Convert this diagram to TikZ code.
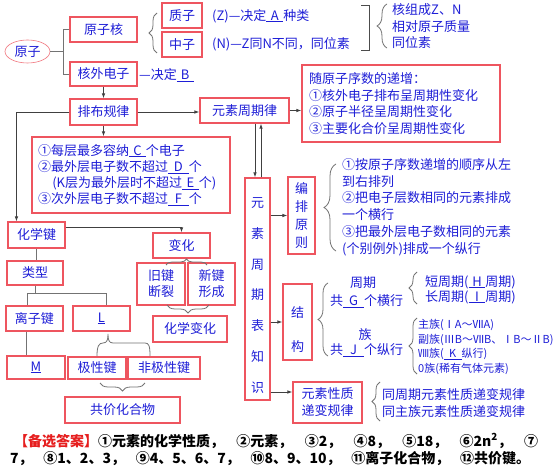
\documentclass[tikz,border=0pt]{standalone}
\usepackage{fontspec}
\setmainfont{Noto Sans CJK SC}
\usetikzlibrary{arrows.meta,shapes.geometric,decorations.pathreplacing,calc}
\definecolor{tblue}{RGB}{30,30,215}
\definecolor{bred}{RGB}{238,85,95}
\definecolor{lgray}{RGB}{115,115,115}
\definecolor{ared}{RGB}{230,30,30}
\newcommand\blank[2][1.3em]{\underline{\hbox to #1{\hss#2\hss}}}
\tikzset{
 box/.style={draw=bred, line width=1.1pt, text=tblue, inner sep=0pt, align=center, font=\fontsize{13}{16}\selectfont},
 conn/.style={draw=lgray, line width=0.8pt},
 arr/.style={draw=black!75, line width=0.8pt, -{Latex[length=5pt,width=3.5pt]}},
 brc/.style={draw=lgray, line width=0.8pt, decorate, decoration={brace, amplitude=#1}},
 brc/.default=6pt,
 txt/.style={text=tblue, inner sep=0pt, font=\fontsize{13}{16}\selectfont, anchor=west},
 vtxt/.style={text=tblue, inner sep=0pt, align=center},
 anstxt/.style={anchor=west, inner sep=0pt, font=\bfseries\fontsize{14}{16}\selectfont},
}
\begin{document}
\begin{tikzpicture}[x=1pt,y=-1pt]
\path[use as bounding box, fill=white] (0,0) rectangle (560,468);

% nodes
\node[ellipse, draw=bred!80, line width=0.6pt, text=tblue, minimum width=45pt, minimum height=23pt, inner sep=0pt, font=\fontsize{13}{16}\selectfont] (yz) at (27.5,51.5) {原子};
\node[box, minimum width=67pt, minimum height=25pt] (yzh) at (103.5,29.5) {原子核};
\node[box, minimum width=67pt, minimum height=24pt] (hwdz) at (103.5,74) {核外电子};
\node[box, minimum width=40pt, minimum height=25pt] (zhz) at (182,15.5) {质子};
\node[box, minimum width=40pt, minimum height=25pt] (zgz) at (182,44.5) {中子};
\node[box, minimum width=67pt, minimum height=26pt] (pbgl) at (103.5,112) {排布规律};
\node[box, minimum width=89pt, minimum height=25pt] (yszql) at (244.5,110.5) {元素周期律};
\node[box, minimum width=198pt, minimum height=77pt, text width=184pt, align=left, font=\fontsize{13}{16.7}\selectfont] (sy) at (401,103.5) {随原子序数的递增：\\①核外电子排布呈周期性变化\\②原子半径呈周期性变化\\③主要化合价呈周期性变化};
\node[box, minimum width=198pt, minimum height=76pt, text width=186pt, align=left, font=\fontsize{13}{16.3}\selectfont] (rule) at (131,175) {①每层最多容纳\blank{C}个电子\\②最外层电子数不超过\blank[1.6em]{D}个\\\hspace*{1.1em}(K层为最外层时不超过\blank{E}个)\\③次外层电子数不超过\blank[1.6em]{F}个};
\node[box, minimum width=57pt, minimum height=26pt] (hxj) at (36.5,235) {化学键};
\node[box, minimum width=57pt, minimum height=25pt] (bh) at (181.5,245.5) {变化};
\node[box, minimum width=48pt, minimum height=42pt] (jj) at (161,284) {旧键\\断裂};
\node[box, minimum width=47pt, minimum height=42pt] (xj) at (211.5,284) {新键\\形成};
\node[box, minimum width=74pt, minimum height=26pt] (hxbh) at (190,329) {化学变化};
\node[box, minimum width=56pt, minimum height=24pt] (lx) at (35,273) {类型};
\node[box, minimum width=57pt, minimum height=25pt] (lzj) at (34.5,318.5) {离子键};
\node[box, minimum width=57pt, minimum height=25pt] (L) at (101.5,318.5) {\underline{L}};
\node[box, minimum width=58pt, minimum height=23pt] (M) at (36,367.5) {\underline{M}};
\node[box, minimum width=58pt, minimum height=22pt] (jx) at (97,368) {极性键};
\node[box, minimum width=72pt, minimum height=22pt] (fjx) at (164,368) {非极性键};
\node[box, minimum width=115pt, minimum height=26pt] (gj) at (122.5,410) {共价化合物};
\node[box, minimum width=25pt, minimum height=222pt] (tab) at (257.5,289) {};
\node[vtxt, font=\fontsize{13}{30.8}\selectfont] (tabt) at (257.5,295.5) {元\\素\\周\\期\\表\\知\\识};
\node[box, minimum width=27pt, minimum height=77pt, font=\fontsize{13}{17.7}\selectfont] (bp) at (301.5,215.5) {编\\排\\原\\则};
\node[box, minimum width=29pt, minimum height=76pt] (jg) at (297.5,322) {};
\node[vtxt, font=\fontsize{13}{34}\selectfont] (jgt) at (297.5,330) {结\\构};
\node[box, minimum width=69pt, minimum height=41pt, font=\fontsize{13}{17}\selectfont] (xz) at (327.5,402.5) {元素性质\\递变规律};

% texts
\node[txt] (tz) at (212,16) {(Z)—决定\blank{A}种类};
\node[txt] (tn) at (212,44) {(N)—Z同N不同，同位素};
\node[txt] (t1) at (392,10) {核组成Z、N};
\node[txt] (t2) at (392,27) {相对原子质量};
\node[txt] (t3) at (392,43) {同位素};
\node[txt] (tb) at (139,75) {—决定\blank{B}};
\node[txt, align=left, font=\fontsize{13}{16.8}\selectfont] (bpl) at (342,207) {①按原子序数递增的顺序从左\\到右排列\\②把电子层数相同的元素排成\\一个横行\\③把最外层电子数相同的元素\\(个别例外)排成一个纵行};
\node[txt, anchor=center] (zq) at (363,283) {周期};
\node[txt] (gh) at (330,301) {共\blank[1.6em]{G}个横行};
\node[txt, anchor=center] (zu) at (365,335) {族};
\node[txt] (gz) at (330,350) {共\blank[1.6em]{J}个纵行};
\node[txt] (dzq) at (425,282) {短周期(\blank{H}周期)};
\node[txt] (czq) at (425,297) {长周期(\blank{I}周期)};
\node[txt, align=left, font=\fontsize{11}{14.7}\selectfont] (zul) at (418,347) {主族(ⅠA～ⅦA)\\副族(ⅢB～ⅦB、ⅠB～ⅡB)\\Ⅷ族(\blank[1.6em]{K}纵行)\\0族(稀有气体元素)};
\node[txt] (tzq) at (382,395) {同周期元素性质递变规律};
\node[txt] (tzz) at (382,412) {同主族元素性质递变规律};
\node[anstxt] (ans1) at (14,441) {\makebox[524pt][s]{\textcolor{ared}{【备选答案】}①元素的化学性质， ②元素， ③2， ④8， ⑤18， ⑥2n\textsuperscript{2}， ⑦}};
\node[anstxt] (ans2) at (10,459) {\makebox[520pt][s]{7， ⑧1、2、3， ⑨4、5、6、7， ⑩8、9、10， ⑪离子化合物， ⑫共价键。}};

% connectors
\coordinate (bj) at ($(yz.east)+(13,0)$);
\draw[conn] (yz.east) -- (bj);
\draw[conn] (yzh.west) -| (bj) |- (hwdz.west);
\draw[brc=8pt] (157,53) -- (157,13);
\draw[line width=0.9pt, draw=black!70] (361,5) -- (369,5) -- (369,50) -- (361,50);
\draw[brc=10pt] (387,48) -- (387,4);

\draw[arr] (hwdz.south) -- (pbgl.north);
\draw[arr] (pbgl.east) -- (pbgl.east -| yszql.west);
\draw[arr] (yszql.east) -- (yszql.east -| sy.west);
\draw[arr] (pbgl.south) -- (pbgl.south |- rule.north);
\coordinate (hk) at ($(hxj.north west)+(9,0)$);
\draw[arr] (pbgl.west) -| (hk);
\coordinate (tq1) at ($(tab.north)+(-2.5,0)$);
\coordinate (tq2) at ($(tab.north)+(3.5,0)$);
\draw[arr] (tq1 |- yszql.south) -- (tq1);
\draw[arr] (tq2) -- (tq2 |- yszql.south);
\draw[arr] (tab.east |- bp.west) -- (bp.west);
\draw[arr] (tab.east |- jg.west) -- (jg.west);
\coordinate (x3) at ([yshift=10.5pt]xz.west);
\draw[arr] (tab.east |- x3) -- (x3);

\coordinate (hb) at ([yshift=8pt]hxj.east);
\draw[arr] (hb) -| (bh.north);
\draw[brc=6pt] (166,265) -- (207,265);
\draw[brc=8pt] (209,305) -- (167,305);

\draw[conn] (hxj.south) -- (hxj.south |- lx.north);
\coordinate (br) at ($(lx.south)+(0,8)$);
\draw[conn] (lx.south) -- (br);
\draw[conn] ([xshift=-7.5pt]lzj.north) |- (br) -| ([xshift=4.5pt]L.north);
\coordinate (m1) at ([xshift=-8.5pt]lzj.south);
\draw[conn] (m1) -- (m1 |- M.north);
\draw[conn] (97,356) .. controls (97,346) and (99,343) .. (103,343) .. controls (107,343) and (108,340) .. (108,334) .. controls (108,340) and (109,343) .. (113,343) -- (145,343) .. controls (149,343) and (150,346) .. (150,356);
\draw[brc=8pt] (145,383) -- (100,383);

\draw[brc=12pt] (336,251) -- (336,164);
\draw[brc=10pt] (328,356) -- (328,283);
\draw[brc=8pt] (417,304) -- (417,272);
\draw[brc=8pt] (417,374) -- (417,318);
\draw[brc=8pt] (380,421) -- (380,382);
\end{tikzpicture}
\end{document}
